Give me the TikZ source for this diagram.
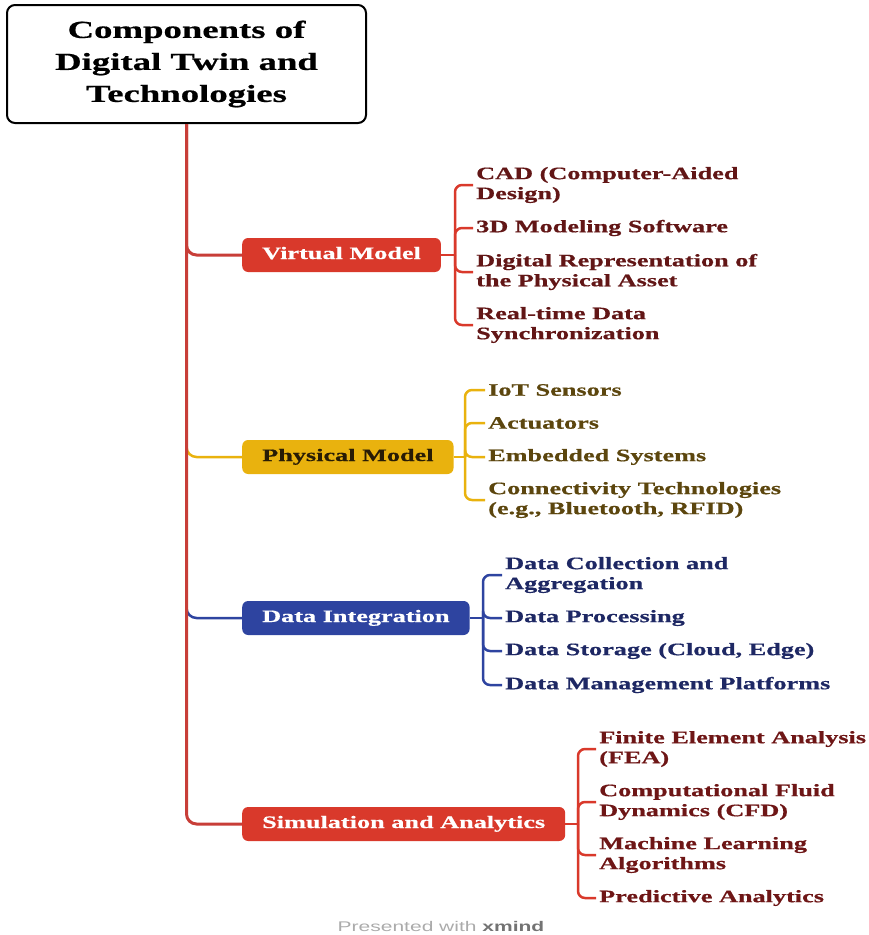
\documentclass[tikz,border=0pt]{standalone}
\usepackage{fontspec}
\setmainfont{Liberation Serif}[FakeStretch=1.5,BoldFeatures={FakeBold=0.6}]
\newfontfamily\footfont{Liberation Sans}[FakeStretch=1.5]
\tikzset{%
  topic/.style={draw,line width=2pt,rounded corners=8pt,align=center,inner sep=0pt,
    minimum width=359pt,minimum height=118pt,font=\fontsize{24.5}{32}\selectfont\bfseries},
  branch/.style={rounded corners=6pt,fill=#1,anchor=west,inner xsep=20pt,inner ysep=0pt,
    minimum height=34pt,text height=12pt,text depth=4pt,text=white,
    font=\fontsize{17.5}{20}\selectfont\bfseries},
  leaf/.style={anchor=west,align=left,inner sep=3pt,text=#1,
    font=\fontsize{17.5}{20}\selectfont\bfseries},
  link/.style={line width=2.5pt,draw=#1,rounded corners=7pt}
}
\definecolor{trunk}{RGB}{200,62,56}
\definecolor{vm}{RGB}{217,57,43}
\definecolor{pm}{RGB}{233,178,14}
\definecolor{di}{RGB}{46,68,160}
\definecolor{vtxt}{RGB}{98,22,22}
\definecolor{ptxt}{RGB}{92,70,14}
\definecolor{dtxt}{RGB}{30,40,100}
\definecolor{stxt}{RGB}{110,22,22}
\definecolor{pmtxt}{RGB}{40,28,5}

\begin{document}
\begin{tikzpicture}[x=1pt,y=-1pt]
  \useasboundingbox (0,0) rectangle (869,935);
  \node[topic] (t) at (186.5,64) {Components of\\Digital Twin and\\Technologies};
  \node[branch=vm] (v) at (242,255) {Virtual Model};
  \node[branch=pm,text=pmtxt] (p) at (242,457) {Physical Model};
  \node[branch=di] (d) at (242,618) {Data Integration};
  \node[branch=vm] (s) at (242,824) {Simulation and Analytics};
  %%%
  \coordinate (pk) at (186.5,430);
  \coordinate (dk) at (186.5,590);
  \draw[link=pm,rounded corners=10pt] (pk) |- (p.west);
  \draw[link=di,rounded corners=10pt] (dk) |- (d.west);
  \draw[link=trunk,line width=3pt,rounded corners=10pt] (t.south) |- (v.west);
  \draw[link=trunk,line width=3pt,rounded corners=10pt] (t.south) |- (s.west);
  %%%
  \node[leaf=vtxt] (v0) at (473,185) {CAD (Computer-Aided\\Design)};
  \node[leaf=vtxt] (v1) at (473,228) {3D Modeling Software};
  \node[leaf=vtxt] (v2) at (473,272) {Digital Representation of\\the Physical Asset};
  \node[leaf=vtxt] (v3) at (473,325) {Real-time Data\\Synchronization};
  \coordinate (vb) at (455,255);
  \draw[link=vm] (v) -- (vb);
  \draw[link=vm] (vb) |- (v0.west);
  \draw[link=vm] (vb) |- (v1.west);
  \draw[link=vm] (vb) |- (v2.west);
  \draw[link=vm] (vb) |- (v3.west);
  %%%
  \node[leaf=ptxt] (p0) at (485,390) {IoT Sensors};
  \node[leaf=ptxt] (p1) at (485,423) {Actuators};
  \node[leaf=ptxt] (p2) at (485,457) {Embedded Systems};
  \node[leaf=ptxt] (p3) at (485,500) {Connectivity Technologies\\(e.g., Bluetooth, RFID)};
  \coordinate (pb) at (465,457);
  \draw[link=pm] (p) -- (pb);
  \draw[link=pm] (pb) |- (p0.west);
  \draw[link=pm] (pb) |- (p1.west);
  \draw[link=pm] (pb) |- (p2.west);
  \draw[link=pm] (pb) |- (p3.west);
  %%%
  \node[leaf=dtxt] (d0) at (502,575) {Data Collection and\\Aggregation};
  \node[leaf=dtxt] (d1) at (502,618) {Data Processing};
  \node[leaf=dtxt] (d2) at (502,651) {Data Storage (Cloud, Edge)};
  \node[leaf=dtxt] (d3) at (502,685) {Data Management Platforms};
  \coordinate (db) at (483,618);
  \draw[link=di] (d) -- (db);
  \draw[link=di] (db) |- (d0.west);
  \draw[link=di] (db) |- (d1.west);
  \draw[link=di] (db) |- (d2.west);
  \draw[link=di] (db) |- (d3.west);
  %%%
  \node[leaf=stxt] (s0) at (596,749) {Finite Element Analysis\\(FEA)};
  \node[leaf=stxt] (s1) at (596,802) {Computational Fluid\\Dynamics (CFD)};
  \node[leaf=stxt] (s2) at (596,855) {Machine Learning\\Algorithms};
  \node[leaf=stxt] (s3) at (596,898) {Predictive Analytics};
  \coordinate (sb) at (578,824);
  \draw[link=vm] (s) -- (sb);
  \draw[link=vm] (sb) |- (s0.west);
  \draw[link=vm] (sb) |- (s1.west);
  \draw[link=vm] (sb) |- (s2.west);
  \draw[link=vm] (sb) |- (s3.west);
  %%%
  \node[font=\footfont\fontsize{14}{16}\selectfont,text=black!33] (foot) at (441,926)
    {Presented with \textbf{\textcolor{black!55}{xmind}}};
\end{tikzpicture}
\end{document}
